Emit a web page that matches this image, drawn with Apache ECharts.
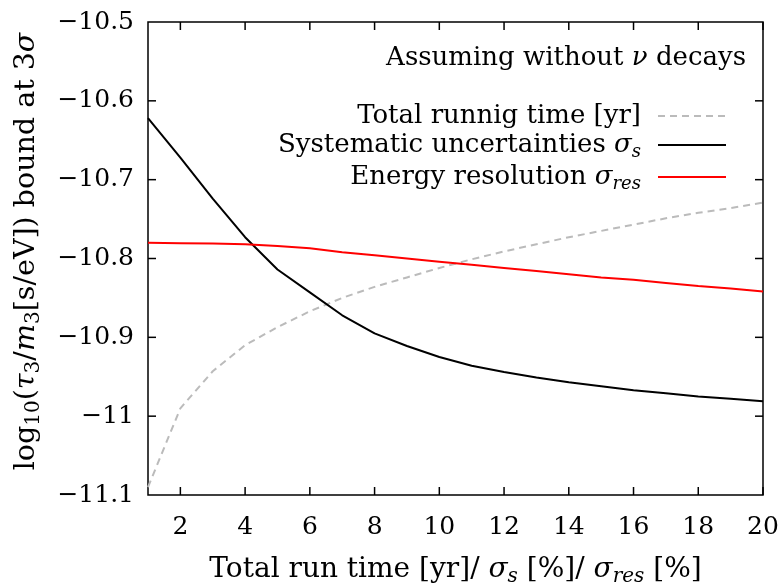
<!DOCTYPE html>
<html>
<head>
<meta charset="utf-8">
<script src="https://cdn.jsdelivr.net/npm/echarts@6/dist/echarts.min.js"></script>
<style>
  html, body { margin: 0; padding: 0; background: #fff; }
  #chart { width: 780px; height: 586px; }
</style>
</head>
<body>
<div id="chart"></div>
<script>
// x positions: run time in years / sigma_s in % / sigma_res in %
const xValues = [1, 2, 3, 4, 5, 6, 7, 8, 9, 10, 11, 12, 13, 14, 15, 16, 17, 18, 19, 20];

// log10(tau3/m3) bound at 3 sigma for each scan
const runTimeBound = [-11.09, -10.99, -10.943, -10.910, -10.887, -10.867, -10.850, -10.836, -10.824, -10.812,
                      -10.801, -10.791, -10.782, -10.773, -10.765, -10.757, -10.749, -10.742, -10.736, -10.729];
const systematicBound = [-10.622, -10.672, -10.724, -10.773, -10.814, -10.843, -10.872, -10.895, -10.911, -10.925,
                         -10.936, -10.944, -10.951, -10.957, -10.962, -10.967, -10.971, -10.975, -10.978, -10.981];
const resolutionBound = [-10.780, -10.7805, -10.781, -10.782, -10.784, -10.787, -10.792, -10.796, -10.800, -10.804,
                         -10.808, -10.812, -10.816, -10.820, -10.824, -10.827, -10.831, -10.835, -10.838, -10.842];

const xRange = [1, 20];
const yRange = [-11.1, -10.5];
const yStep = 0.1;

// tick marks drawn on all four sides of the frame
const xTickValues = [2, 4, 6, 8, 10, 12, 14, 16, 18, 20];
const yTickValues = [-11.0, -10.9, -10.8, -10.7, -10.6];

const seriesNames = ['Total runnig time [yr]', 'Systematic uncertainties \u03c3s', 'Energy resolution \u03c3res'];

const FONT = '"DejaVu Serif", "Liberation Serif", serif';
const TICK_LEN = 8;

function richStyles(size) {
  const sub = Math.round(size * 0.7);
  const base = { fontFamily: FONT, color: '#000', fontWeight: 'normal' };
  return {
    r: Object.assign({}, base, { fontSize: size, lineHeight: size + 6 }),
    i: Object.assign({}, base, { fontSize: size, lineHeight: size + 6, fontStyle: 'italic' }),
    s: Object.assign({}, base, { fontSize: sub, lineHeight: sub, fontStyle: 'italic', verticalAlign: 'bottom' }),
    n: Object.assign({}, base, { fontSize: sub, lineHeight: sub, verticalAlign: 'bottom' })
  };
}

const legendText = {};
legendText[seriesNames[0]] = '{r|Total runnig time [yr]}';
legendText[seriesNames[1]] = '{r|Systematic uncertainties }{i|\u03c3}{s|s}';
legendText[seriesNames[2]] = '{r|Energy resolution }{i|\u03c3}{s|res}';

const pairs = ys => xValues.map((x, k) => [x, ys[k]]);

const minusLabel = v => {
  const r = Math.round(v * 10) / 10;
  return String(r).replace('-', '\u2212');
};

const chart = echarts.init(document.getElementById('chart'), null, { renderer: 'canvas' });

const tickFont = { fontFamily: FONT, fontSize: 25, color: '#000' };

chart.setOption({
  animation: false,
  backgroundColor: '#fff',
  grid: {
    left: 148, right: 17, top: 22, bottom: 91,
    containLabel: false, outerBoundsMode: 'none',
    show: true, borderColor: '#000', borderWidth: 1.5, backgroundColor: 'transparent'
  },
  title: {
    text: '{r|Assuming without }{i|\u03bd}{r| decays}',
    right: 34,
    top: 42,
    padding: 0,
    textStyle: { fontWeight: 'normal', rich: richStyles(26) }
  },
  legend: {
    orient: 'vertical',
    right: 53,
    top: 103,
    padding: 0,
    align: 'right',
    itemWidth: 68,
    itemHeight: 14,
    itemGap: 3,
    selectedMode: false,
    itemStyle: { opacity: 0 },
    formatter: name => legendText[name],
    textStyle: { padding: [0, 12, 0, 0], rich: richStyles(26) },
    data: seriesNames
  },
  xAxis: {
    type: 'value',
    min: xRange[0],
    max: xRange[1],
    splitNumber: 10,
    position: 'bottom',
    name: '{r|Total run time [yr]/ }{i|\u03c3}{s|s}{r| [%]/ }{i|\u03c3}{s|res}{r| [%]}',
    nameLocation: 'middle',
    nameGap: 58,
    nameTextStyle: { rich: richStyles(28) },
    axisLine: { show: false },
    axisTick: { show: false },
    axisLabel: Object.assign({ show: true, margin: 20, showMinLabel: false }, tickFont),
    splitLine: { show: false }
  },
  yAxis: {
    type: 'value',
    min: yRange[0],
    max: yRange[1],
    interval: yStep,
    position: 'left',
    name: '{r|log}{n|10}{r|(}{i|\u03c4}{n|3}{r|/}{i|m}{n|3}{r|[s/eV]) bound at 3}{i|\u03c3}',
    nameLocation: 'middle',
    nameRotate: 90,
    nameGap: 104,
    nameTextStyle: { padding: [0, 0, 0, 14], rich: richStyles(28.5) },
    axisLine: { show: false },
    axisTick: { show: false },
    axisLabel: Object.assign({ show: true, margin: 14, formatter: minusLabel }, tickFont),
    splitLine: { show: false }
  },
  series: [{
    name: seriesNames[0],
    type: 'line',
    data: pairs(runTimeBound),
    showSymbol: false,
    symbol: 'none',
    lineStyle: { color: '#bbbbbb', width: 2, type: [7, 5] },
    itemStyle: { color: '#bbbbbb' },
    z: 2
  }, {
    name: seriesNames[1],
    type: 'line',
    data: pairs(systematicBound),
    showSymbol: false,
    symbol: 'none',
    lineStyle: { color: '#000000', width: 2 },
    itemStyle: { color: '#000000' },
    z: 3
  }, {
    name: seriesNames[2],
    type: 'line',
    data: pairs(resolutionBound),
    showSymbol: false,
    symbol: 'none',
    lineStyle: { color: '#ff0000', width: 2 },
    itemStyle: { color: '#ff0000' },
    z: 4
  }]
});

// Inward tick marks on all four edges, positioned through the chart's own scales.
const toPx = pt => chart.convertToPixel({ gridIndex: 0 }, pt);
const tickLines = [];
const tickLine = (x1, y1, x2, y2) => ({
  type: 'line',
  z: 100,
  silent: true,
  shape: { x1: x1, y1: y1, x2: x2, y2: y2 },
  style: { stroke: '#000', lineWidth: 1.5 }
});
xTickValues.forEach(v => {
  const lo = toPx([v, yRange[0]]);
  const hi = toPx([v, yRange[1]]);
  tickLines.push(tickLine(lo[0], lo[1], lo[0], lo[1] - TICK_LEN));
  tickLines.push(tickLine(hi[0], hi[1], hi[0], hi[1] + TICK_LEN));
});
yTickValues.forEach(v => {
  const lo = toPx([xRange[0], v]);
  const hi = toPx([xRange[1], v]);
  tickLines.push(tickLine(lo[0], lo[1], lo[0] + TICK_LEN, lo[1]));
  tickLines.push(tickLine(hi[0], hi[1], hi[0] - TICK_LEN, hi[1]));
});
chart.setOption({ graphic: { elements: tickLines } });
</script>
</body>
</html>
